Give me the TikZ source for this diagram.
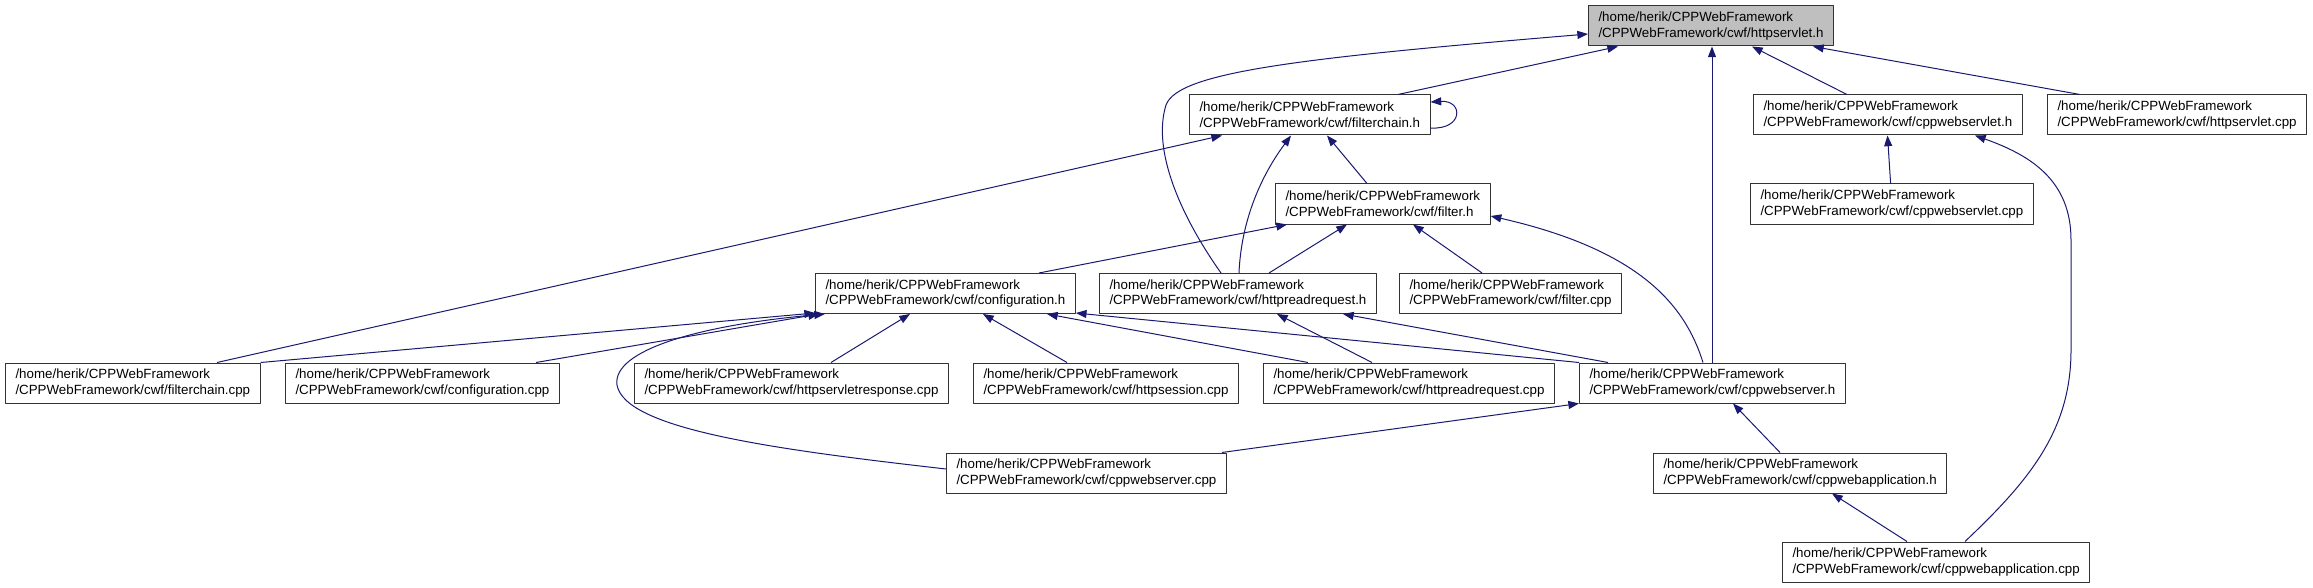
\documentclass[tikz,border=0pt]{standalone}
\usepackage{fontspec}
\setmainfont{Liberation Sans}
\usetikzlibrary{arrows.meta,calc}
\definecolor{edgeblue}{HTML}{191970}
\begin{document}
\begin{tikzpicture}[x=0.75pt,y=-0.75pt,line join=round,>={Triangle[length=8pt,width=6pt]}]
	\tikzset{
		file/.style={draw=black!80,line width=0.75pt,fill=white,anchor=west,align=left,
			inner xsep=7.5pt,inner ysep=0pt,minimum height=30pt,font=\fontsize{10}{11.75}\selectfont},
		inc/.style={->,edgeblue,line width=0.75pt}
	}
	\def\pth{/home/herik/CPPWebFramework\\/CPPWebFramework/cwf/}
	\useasboundingbox(0,0)rectangle(2313,588);
	\node[file,fill=black!25](hs)at(1588,26){\pth httpservlet.h};
	\node[file](fch)at(1189,115){\pth filterchain.h};
	\node[file](cwsh)at(1753,115){\pth cppwebservlet.h};
	\node[file](hscpp)at(2047,115){\pth httpservlet.cpp};
	\node[file](flh)at(1275,204){\pth filter.h};
	\node[file](cwscpp)at(1750,204){\pth cppwebservlet.cpp};
	\node[file](cfgh)at(815,293.5){\pth configuration.h};
	\node[file](hrrh)at(1099,293.5){\pth httpreadrequest.h};
	\node[file](flcpp)at(1399,293.5){\pth filter.cpp};
	\node[file](fchcpp)at(5,383){\pth filterchain.cpp};
	\node[file](cfgcpp)at(285,383){\pth configuration.cpp};
	\node[file](hsrcpp)at(634,383){\pth httpservletresponse.cpp};
	\node[file](hsescpp)at(973,383){\pth httpsession.cpp};
	\node[file](hrrcpp)at(1263,383){\pth httpreadrequest.cpp};
	\node[file](cwsvh)at(1579,383){\pth cppwebserver.h};
	\node[file](cwsvcpp)at(946,473){\pth cppwebserver.cpp};
	\node[file](cwah)at(1653,473){\pth cppwebapplication.h};
	\node[file](cwacpp)at(1782,562){\pth cppwebapplication.cpp};
	% httpservlet.h
	\draw[inc]($(fch.north west)+(209,0)$)--($(hs.south west)+(30,0)$);
	\draw[inc]($(hrrh.north west)+(122,0)$)..controls(1180,215)and(1152,150)..(1166,105)
		..controls(1178,72)and(1300,58)..($(hs.west)+(0,8)$);
	\draw[inc]($(cwsvh.north west)+(133,0)$)--($(hs.south west)+(124,0)$);
	\draw[inc]($(cwsh.north west)+(94,0)$)--($(hs.south west)+(164,0)$);
	\draw[inc]($(hscpp.north west)+(33,0)$)--($(hs.south west)+(225,0)$);
	% filterchain.h
	\draw[inc]($(fch.east)+(0,13)$)..controls($(fch.east)+(33,15)$)and($(fch.east)+(33,-15)$)..($(fch.east)+(0,-13)$);
	\draw[inc]($(fchcpp.north west)+(212,0)$)--($(fch.south west)+(33,0)$);
	\draw[inc]($(hrrh.north west)+(140,0)$)..controls(1241,225)and(1258,180)..($(fch.south west)+(102,0)$);
	\draw[inc]($(flh.north west)+(92,0)$)--($(fch.south west)+(138,0)$);
	% filter.h
	\draw[inc]($(cfgh.north west)+(224,0)$)--($(flh.south west)+(12,0)$);
	\draw[inc]($(hrrh.north west)+(170,0)$)--($(flh.south west)+(72,0)$);
	\draw[inc]($(flcpp.north west)+(83,0)$)--($(flh.south west)+(138,0)$);
	\draw[inc]($(cwsvh.north west)+(124,0)$)..controls(1685,305)and(1640,250)..($(flh.east)+(0,12)$);
	% configuration.h
	\draw[inc](fchcpp.north east)--($(cfgh.south west)+(0,-1)$);
	\draw[inc]($(cfgcpp.north west)+(251,0)$)--($(cfgh.south west)+(4,0)$);
	\draw[inc]($(cwsvcpp.west)+(0,-4)$)..controls(780,450)and(625,430)..(617,385)
		..controls(612,350)and(700,325)..($(cfgh.south west)+(10,0)$);
	\draw[inc]($(hsrcpp.north west)+(197,0)$)--($(cfgh.south west)+(95,0)$);
	\draw[inc]($(hsescpp.north west)+(94,0)$)--($(cfgh.south west)+(168,0)$);
	\draw[inc]($(hrrcpp.north west)+(45,0)$)--($(cfgh.south west)+(232,0)$);
	\draw[inc](cwsvh.north west)--($(cfgh.south east)+(0,-1)$);
	% httpreadrequest.h
	\draw[inc]($(hrrcpp.north west)+(109,0)$)--($(hrrh.south west)+(178,0)$);
	\draw[inc]($(cwsvh.north west)+(29,0)$)--($(hrrh.south west)+(244,0)$);
	% cppwebserver.h, cppwebapplication.h
	\draw[inc]($(cwsvcpp.north east)+(-5,0)$)--(cwsvh.south west);
	\draw[inc]($(cwah.north west)+(127,0)$)--($(cwsvh.south west)+(154,0)$);
	\draw[inc]($(cwacpp.north west)+(125,0)$)--($(cwah.south west)+(179,0)$);
	% cppwebservlet.h
	\draw[inc]($(cwacpp.north west)+(183,0)$)..controls(2030,480)and(2071,430)..(2071,350)--(2071,240)
		..controls(2071,180)and(2030,155)..($(cwsh.south west)+(222,0)$);
	\draw[inc]($(cwscpp.north west)+(140.6,0)$)--($(cwsh.south west)+(134.5,0)$);
\end{tikzpicture}
\end{document}
